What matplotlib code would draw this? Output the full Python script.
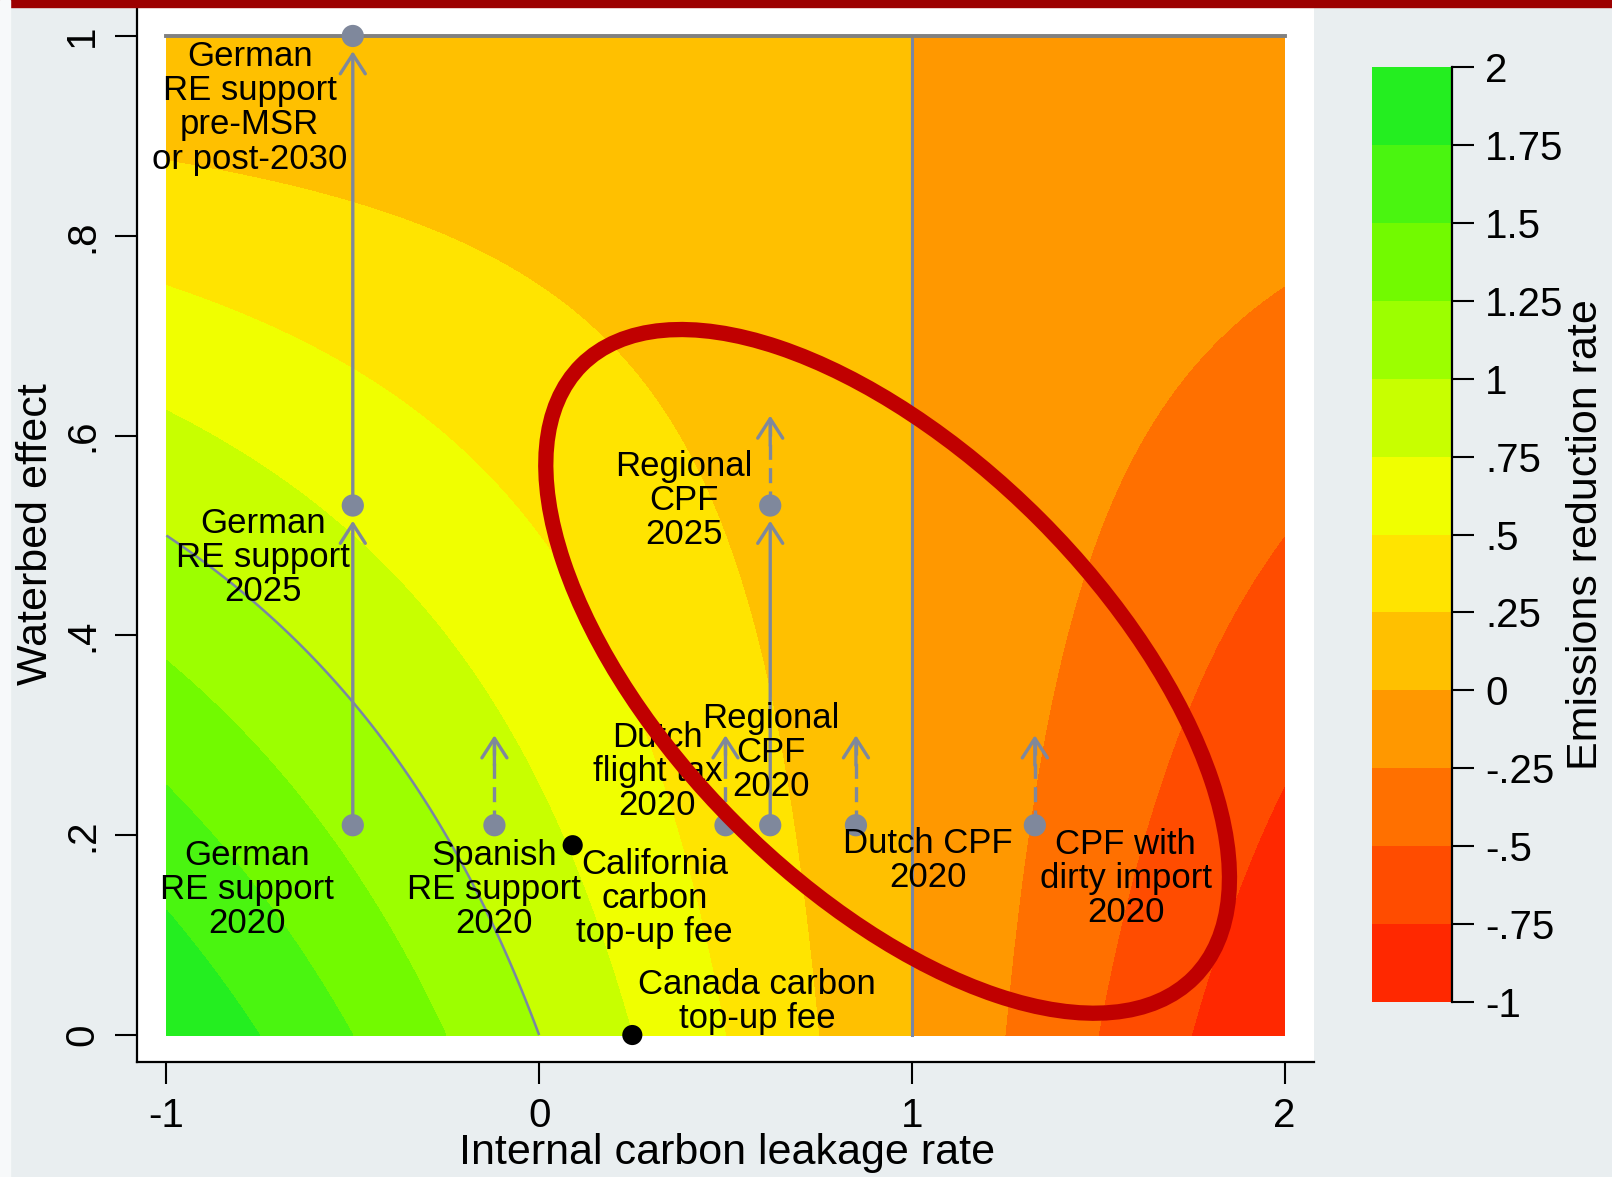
import numpy as np
import matplotlib
matplotlib.use('Agg')
import matplotlib.pyplot as plt
import matplotlib.transforms as mtransforms
from matplotlib.patches import Ellipse, Rectangle

plt.rcParams['font.family'] = ['Liberation Sans', 'DejaVu Sans']

# reduction-rate bands and their colours (red -> green)
levels = np.arange(-1.0, 2.001, 0.25)
band_colors = ['#ff2800', '#ff4c00', '#ff7000', '#ff9800', '#ffc000', '#ffe400',
               '#f0ff00', '#c8ff00', '#9cff00', '#72fa00', '#4af510', '#24ee20']
cbar_ticklabels = ['-1', '-.75', '-.5', '-.25', '0', '.25', '.5', '.75',
                   '1', '1.25', '1.5', '1.75', '2']

# policies: (internal leakage rate, waterbed effect)
policy_names = ['German\nRE support\n2020', 'German\nRE support\n2025',
                'German\nRE support\npre-MSR\nor post-2030',
                'Spanish\nRE support\n2020', 'Dutch\nflight tax\n2020',
                'Regional\nCPF\n2020', 'Regional\nCPF\n2025',
                'Dutch CPF\n2020', 'CPF with\ndirty import\n2020']
policy_leak = [-0.5, -0.5, -0.5, -0.12, 0.5, 0.62, 0.62, 0.85, 1.33]
policy_waterbed = [0.21, 0.53, 1.0, 0.21, 0.21, 0.21, 0.53, 0.21, 0.21]

# carbon price top-up fees
fee_names = ['California\ncarbon\ntop-up fee', 'Canada carbon\ntop-up fee']
fee_leak = [0.09, 0.25]
fee_waterbed = [0.19, 0.0]

# solid arrows: known moves; dashed arrows: possible moves
solid_moves = [(-0.5, 0.21, 0.53), (-0.5, 0.53, 1.0), (0.62, 0.21, 0.53)]
dashed_moves = [(-0.12, 0.21, 0.30), (0.5, 0.21, 0.30), (0.85, 0.21, 0.30),
                (1.33, 0.21, 0.30), (0.62, 0.53, 0.62)]

# label offsets in pixels from each marker
policy_offsets = [(-106, -64), (-90, -52), (-103, -72), (0, -64), (-68, 54),
                  (1, 73), (-86, 5), (72, -35), (91, -53)]
fee_offsets = [(82, -53), (125, 34)]

# emissions reduction rate over the grid
leak_grid = np.linspace(-1, 2, 601)
wb_grid = np.linspace(0, 1, 401)
LL, WW = np.meshgrid(leak_grid, wb_grid)
reduction = (1 - LL) * (1 - WW)

gray = '#7f889c'
line_gray = '#7a86a4'

fig = plt.figure(figsize=(16.12, 11.77), dpi=100, facecolor='#e9eef0')
fig.patches.append(Rectangle((0, 1 - 7 / 1177), 1, 7 / 1177, transform=fig.transFigure,
                             color='#9c0000', zorder=0))
fig.patches.append(Rectangle((0, 0), 10 / 1612, 1, transform=fig.transFigure,
                             color='#f7f9fa', zorder=0))

ax = fig.add_axes([137 / 1612, 115 / 1177, 1177 / 1612, 1055 / 1177])
ax.set_facecolor('white')

cf = ax.contourf(LL, WW, reduction, levels=levels, colors=band_colors)
ax.contour(LL, WW, reduction, levels=[1.0], colors=line_gray, linewidths=1.8)
ax.plot([1, 1], [0, 1], color=line_gray, lw=2.2)
ax.plot([-1, 2], [1, 1], color='#808080', lw=2.8)

# arrows
head = dict(arrowstyle='->,head_length=0.7,head_width=0.45', color=gray, lw=2.4,
            mutation_scale=20, shrinkA=0)
for x, y0, y1 in solid_moves:
    ax.annotate('', xy=(x, y1), xytext=(x, y0),
                arrowprops=dict(head, shrinkB=11))
for x, y0, y1 in dashed_moves:
    ax.plot([x, x], [y0, y1 - 0.004], color=gray, lw=2.4, ls=(0, (4.5, 2.5)))
    ax.annotate('', xy=(x, y1), xytext=(x, y1 - 0.03),
                arrowprops=dict(head, shrinkB=0))

ax.scatter(policy_leak, policy_waterbed, s=16 ** 2, color=gray, zorder=5,
           edgecolors='none')
ax.scatter(fee_leak, fee_waterbed, s=14.5 ** 2, color='black', zorder=5,
           edgecolors='none', clip_on=False)

for name, x, y, off in zip(policy_names, policy_leak, policy_waterbed, policy_offsets):
    ax.annotate(name, (x, y), xytext=off, textcoords='offset pixels',
                ha='center', va='center', fontsize=25, linespacing=1.04, zorder=6)
for name, x, y, off in zip(fee_names, fee_leak, fee_waterbed, fee_offsets):
    ax.annotate(name, (x, y), xytext=off, textcoords='offset pixels',
                ha='center', va='center', fontsize=25, linespacing=1.04, zorder=6)

ax.set_xlim(-1.079, 2.079)
ax.set_ylim(-0.027, 1.029)
ax.set_xticks([-1, 0, 1, 2])
ax.set_xticklabels(['-1', '0', '1', '2'])
ax.set_yticks([0, 0.2, 0.4, 0.6, 0.8, 1.0])
ax.set_yticklabels(['0', '.2', '.4', '.6', '.8', '1'], rotation=90, va='center')
ax.tick_params(axis='both', labelsize=29, length=16, width=1.5, color='black')
ax.tick_params(axis='x', pad=9)
ax.tick_params(axis='y', pad=10)
for side in ['top', 'right']:
    ax.spines[side].set_visible(False)
for side in ['left', 'bottom']:
    ax.spines[side].set_linewidth(1.6)

ax.set_xlabel('Internal carbon leakage rate', fontsize=31, va='center')
ax.xaxis.set_label_coords(0.501, -0.086)
ax.set_ylabel('Waterbed effect', fontsize=31, va='center')
ax.yaxis.set_label_coords(-0.086, 0.5)

# highlight ring, sized in inches around a data-space centre
ring_trans = fig.dpi_scale_trans + mtransforms.ScaledTranslation(0.935, 0.364, ax.transData)
ring = Ellipse((0, 0), 8.66, 4.3, angle=-45, transform=ring_trans, fill=False,
               ec='#c00000', lw=11, zorder=10)
ax.add_artist(ring)

# colour bar
cax = fig.add_axes([1372 / 1612, 175 / 1177, 80 / 1612, 935 / 1177])
cb = fig.colorbar(cf, cax=cax, ticks=levels)
cb.outline.set_visible(False)
cb.ax.set_yticklabels(cbar_ticklabels)
cb.ax.tick_params(labelsize=29, length=16, width=1.5, pad=8)
cb.ax.plot([1, 1], [0, 1], transform=cb.ax.transAxes, color='black', lw=1.6,
           clip_on=False)
cb.set_label('Emissions reduction rate', fontsize=31, va='center')
cb.ax.yaxis.set_label_coords(2.68, 0.5)

fig.savefig('out.png', dpi=100, facecolor=fig.get_facecolor())
